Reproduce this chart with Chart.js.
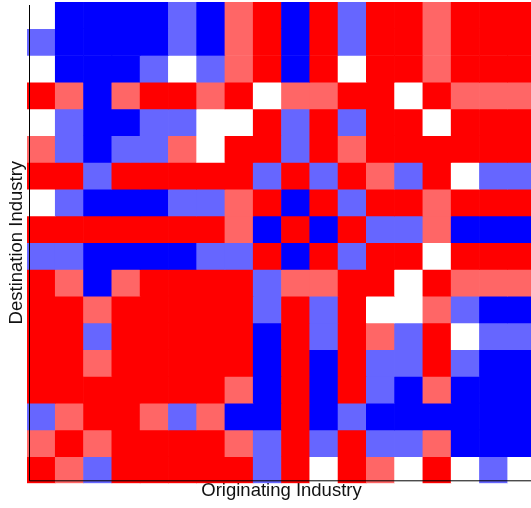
<!DOCTYPE html>
<html>
<head>
<meta charset="utf-8">
<script src="https://cdn.jsdelivr.net/npm/chart.js@4/dist/chart.umd.min.js"></script>
<style>
  html, body { margin: 0; padding: 0; background: #fff; overflow: hidden; }
  #wrap { position: absolute; left: 0; top: 0; }
</style>
</head>
<body>
<div id="wrap"><canvas id="heat" width="540" height="508"></canvas></div>
<script>
// industries 1..18, same order on both axes (no tick labels shown)
const originating = ['1','2','3','4','5','6','7','8','9','10','11','12','13','14','15','16','17','18'];

// cell levels, -2 = strong blue ... 2 = strong red; one array per destination row, top to bottom
const row01 = [ 0,-2,-2,-2,-2,-1,-2, 1, 2,-2, 2,-1, 2, 2, 1, 2, 2, 2];
const row02 = [-1,-2,-2,-2,-2,-1,-2, 1, 2,-2, 2,-1, 2, 2, 1, 2, 2, 2];
const row03 = [ 0,-2,-2,-2,-1, 0,-1, 1, 2,-2, 2, 0, 2, 2, 1, 2, 2, 2];
const row04 = [ 2, 1,-2, 1, 2, 2, 1, 2, 0, 1, 1, 2, 2, 0, 2, 1, 1, 1];
const row05 = [ 0,-1,-2,-2,-1,-1, 0, 0, 2,-1, 2,-1, 2, 2, 0, 2, 2, 2];
const row06 = [ 1,-1,-2,-1,-1, 1, 0, 2, 2,-1, 2, 1, 2, 2, 2, 2, 2, 2];
const row07 = [ 2, 2,-1, 2, 2, 2, 2, 2,-1, 2,-1, 2, 1,-1, 2, 0,-1,-1];
const row08 = [ 0,-1,-2,-2,-2,-1,-1, 1, 2,-2, 2,-1, 2, 2, 1, 2, 2, 2];
const row09 = [ 2, 2, 2, 2, 2, 2, 2, 1,-2, 2,-2, 2,-1,-1, 1,-2,-2,-2];
const row10 = [-1,-1,-2,-2,-2,-2,-1,-1, 2,-2, 2,-1, 2, 2, 0, 2, 2, 2];
const row11 = [ 2, 1,-2, 1, 2, 2, 2, 2,-1, 1, 1, 2, 2, 0, 2, 1, 1, 1];
const row12 = [ 2, 2, 1, 2, 2, 2, 2, 2,-1, 2,-1, 2, 0, 0, 1,-1,-2,-2];
const row13 = [ 2, 2,-1, 2, 2, 2, 2, 2,-2, 2,-1, 2, 1,-1, 2, 0,-1,-1];
const row14 = [ 2, 2, 1, 2, 2, 2, 2, 2,-2, 2,-2, 2,-1,-1, 2,-1,-2,-2];
const row15 = [ 2, 2, 2, 2, 2, 2, 2, 1,-2, 2,-2, 2,-1,-2, 1,-2,-2,-2];
const row16 = [-1, 1, 2, 2, 1,-1, 1,-2,-2, 2,-2,-1,-2,-2,-2,-2,-2,-2];
const row17 = [ 1, 2, 1, 2, 2, 2, 2, 1,-1, 2,-1, 2,-1,-1, 1,-2,-2,-2];
const row18 = [ 2, 1,-1, 2, 2, 2, 2, 2,-1, 2, 0, 2, 1, 0, 2, 0,-1, 0];

const destination = [row01, row02, row03, row04, row05, row06, row07, row08, row09,
                     row10, row11, row12, row13, row14, row15, row16, row17, row18];

const levelColors = {
    '-2': '#0000ff',
    '-1': '#6666ff',
    '0': '#ffffff',
    '1': '#ff6666',
    '2': '#ff0000'
};

// each destination row is one stacked dataset, each cell one unit tall
const datasets = destination.map((row, i) => ({
    label: 'row ' + (i + 1),
    data: row.map(() => 1),
    backgroundColor: row.map(v => levelColors[v]),
    borderWidth: 0,
    barPercentage: 1,
    categoryPercentage: 1
}));

// black axis lines sitting just inside the cell area
const axisLines = {
    id: 'axisLines',
    afterDatasetsDraw(chart) {
        const a = chart.chartArea;
        const ctx = chart.ctx;
        ctx.save();
        ctx.strokeStyle = '#000';
        ctx.lineWidth = 1;
        ctx.beginPath();
        ctx.moveTo(a.left + 2.5, a.top + 3);
        ctx.lineTo(a.left + 2.5, a.bottom - 2.5);
        ctx.lineTo(a.right, a.bottom - 2.5);
        ctx.stroke();
        ctx.restore();
    }
};

const titleFont = { family: 'Liberation Sans, Arial, sans-serif', size: 18.5, lineHeight: 0.8 };

new Chart(document.getElementById('heat').getContext('2d'), {
    type: 'bar',
    data: {
        labels: originating,
        datasets: datasets
    },
    options: {
        responsive: false,
        animation: false,
        layout: { padding: { left: 0, top: 2, right: 4, bottom: 0 } },
        plugins: {
            legend: { display: false },
            tooltip: { enabled: false }
        },
        scales: {
            x: {
                stacked: true,
                ticks: { display: false },
                grid: { display: false, drawTicks: false },
                border: { display: false },
                title: {
                    display: true,
                    text: 'Originating Industry',
                    color: '#111',
                    font: titleFont,
                    padding: { top: 0.1, bottom: 9.8 }
                }
            },
            y: {
                stacked: true,
                reverse: true,
                min: 0,
                max: 18,
                ticks: { display: false },
                grid: { display: false, drawTicks: false },
                border: { display: false },
                title: {
                    display: true,
                    text: 'Destination Industry',
                    color: '#111',
                    font: titleFont,
                    padding: { top: 9.4, bottom: 2.8 }
                }
            }
        }
    },
    plugins: [axisLines]
});
</script>
</body>
</html>
